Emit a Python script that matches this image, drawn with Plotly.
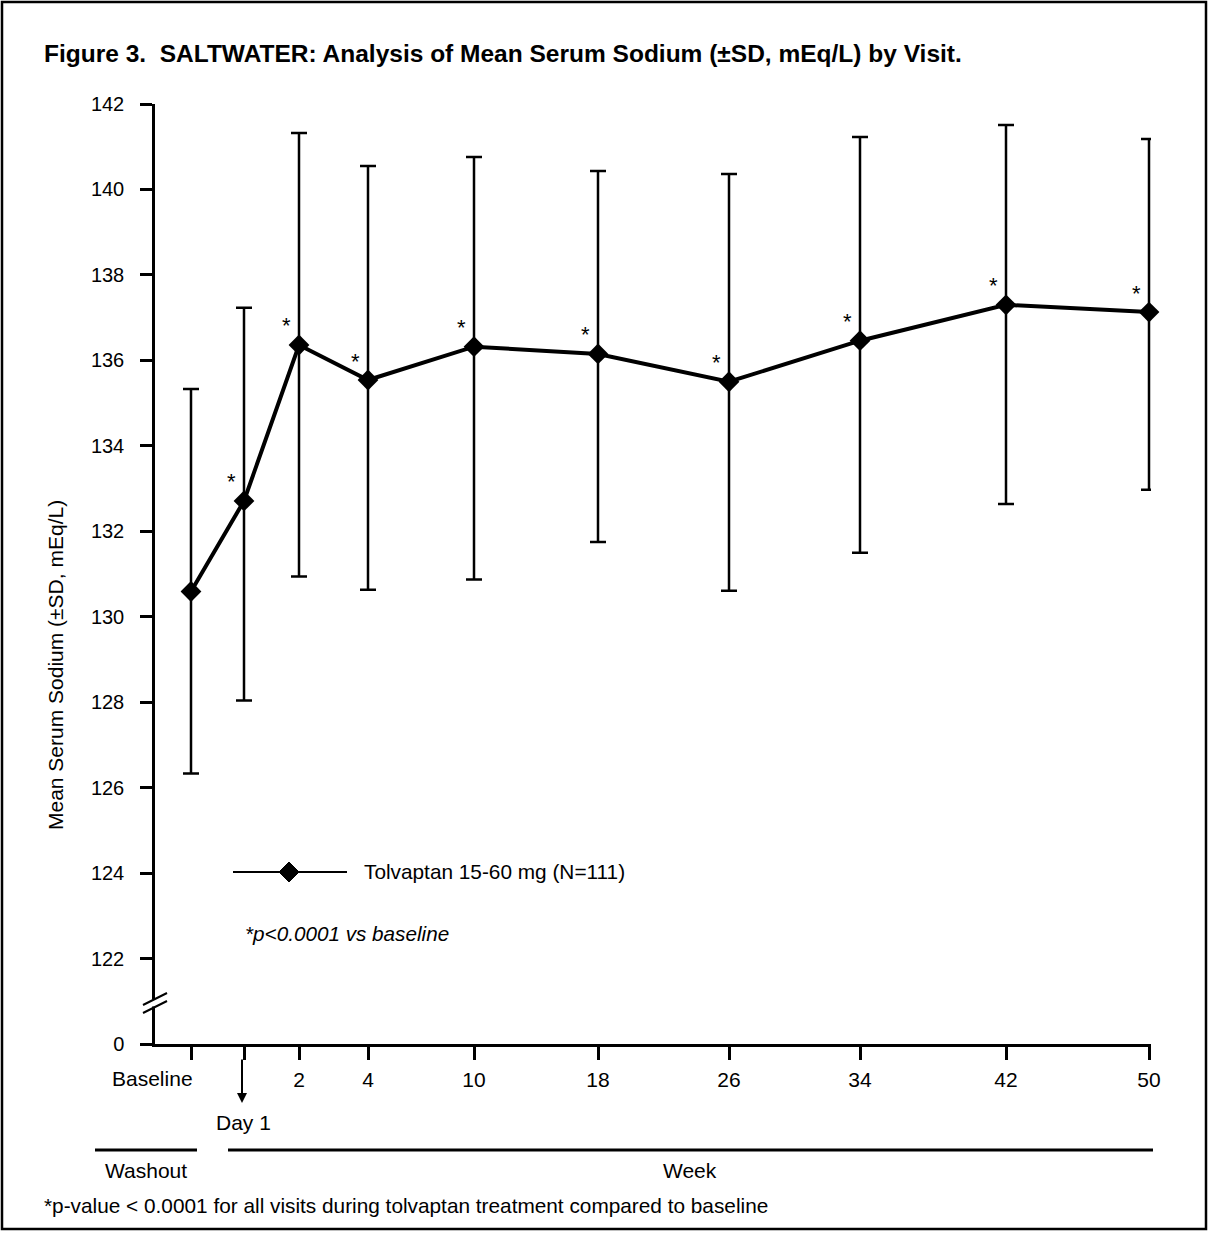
import plotly.graph_objects as go

# ---------------- data ----------------
visit_labels = ["Baseline", "Day 1", "2", "4", "10", "18", "26", "34", "42", "50"]
mean_sodium = [130.59, 132.71, 136.36, 135.54, 136.32, 136.15, 135.50, 136.46, 137.30, 137.13]
upper_sd = [135.33, 137.23, 141.32, 140.55, 140.76, 140.43, 140.36, 141.23, 141.51, 141.18]
lower_sd = [126.33, 128.04, 130.94, 130.63, 130.87, 131.75, 130.61, 131.50, 132.64, 132.97]
significant = [False, True, True, True, True, True, True, True, True, True]
y_tick_labels = ["0", "122", "124", "126", "128", "130", "132", "134", "136", "138", "140", "142"]
series_name = "Tolvaptan 15-60 mg (N=111)"

# ---------------- layout helpers ----------------
W, H = 1209, 1233
L, R, T, B = 155, 1151, 104, 1044          # plot area in pixels
visit_axis_pos = [36, 89, 144, 213, 319, 443, 574, 705, 851, 994]   # horizontal spacing of visits
x_range = [0, R - L]
y_tick_vals = [120 + 2 * i for i in range(len(y_tick_labels))]      # "0" drawn at the break position

FONT = "Liberation Sans, Arial, Helvetica, sans-serif"


def px(x):
    return (x - L) / (R - L)


def py(y):
    return (B - y) / (B - T)


err_plus = [u - m for u, m in zip(upper_sd, mean_sodium)]
err_minus = [m - l for m, l in zip(mean_sodium, lower_sd)]

fig = go.Figure()
fig.add_trace(go.Scatter(
    x=visit_axis_pos, y=mean_sodium, mode="lines+markers", name=series_name,
    line=dict(color="black", width=4),
    marker=dict(symbol="diamond", size=16, color="black"),
    error_y=dict(type="data", symmetric=False, array=err_plus, arrayminus=err_minus,
                 color="black", thickness=2.5, width=8),
    showlegend=False, cliponaxis=False,
))

annotations = []
# significance asterisks
for xp, m, s in zip(visit_axis_pos, mean_sodium, significant):
    if s:
        annotations.append(dict(x=xp, y=m, xref="x", yref="y", text="*", showarrow=False,
                                xshift=-13, yshift=19, font=dict(size=22, color="black", family=FONT)))


def txt(x, y, text, size=21, xanchor="center", **kw):
    annotations.append(dict(x=px(x), y=py(y), xref="paper", yref="paper", text=text,
                            showarrow=False, xanchor=xanchor, yanchor="middle",
                            font=dict(size=size, color="black", family=FONT), **kw))


txt(42, 53, "<b>Figure 3.\u00a0\u00a0SALTWATER: Analysis of Mean Serum Sodium (±SD, mEq/L) by Visit.</b>",
    size=24.5, xanchor="left")
txt(55, 665, "Mean Serum Sodium (±SD, mEq/L)", size=21, textangle=-90)
txt(362, 871, series_name, size=20.8, xanchor="left")
txt(243, 933, "<i>*p&lt;0.0001 vs baseline</i>", size=20.7, xanchor="left")
txt(152, 1078, visit_labels[0], size=21)
txt(243, 1122, visit_labels[1], size=21)
txt(146, 1170, "Washout", size=21)
txt(690, 1170, "Week", size=21)
txt(42, 1205, "*p-value &lt; 0.0001 for all visits during tolvaptan treatment compared to baseline",
    size=20.8, xanchor="left")
# Day 1 arrow
annotations.append(dict(x=px(242), y=py(1103), xref="paper", yref="paper", text="",
                        showarrow=True, axref="pixel", ayref="pixel", ax=0, ay=-45,
                        arrowhead=2, arrowsize=1, arrowwidth=2, arrowcolor="black"))

shapes = []


def pline(x0, y0, x1, y1, w=2.5):
    shapes.append(dict(type="line", xref="paper", yref="paper", x0=px(x0), y0=py(y0),
                       x1=px(x1), y1=py(y1), line=dict(color="black", width=w)))


# outer frame
shapes.append(dict(type="rect", xref="paper", yref="paper", x0=px(2), y0=py(2), x1=px(1206), y1=py(1229),
                   line=dict(color="black", width=2.5)))
# axis break
shapes.append(dict(type="rect", xref="paper", yref="paper", x0=px(150), y0=py(999.5), x1=px(160), y1=py(1006.5),
                   fillcolor="white", line=dict(width=0), layer="above"))
pline(143, 1005, 167, 993, 2)
pline(143, 1013, 167, 1001, 2)
# legend sample
pline(233, 872, 347, 872, 2)
c, h = (289, 872), 10
shapes.append(dict(type="path", xref="paper", yref="paper",
                   path=f"M {px(c[0]-h)},{py(c[1])} L {px(c[0])},{py(c[1]-h)} L {px(c[0]+h)},{py(c[1])} "
                        f"L {px(c[0])},{py(c[1]+h)} Z",
                   fillcolor="black", line=dict(color="black", width=1)))
# washout / week bars
pline(95, 1150, 197, 1150, 3)
pline(228, 1150, 1153, 1150, 3)

fig.update_layout(
    width=W, height=H, margin=dict(l=L, r=W - R, t=T, b=H - B, pad=0),
    paper_bgcolor="white", plot_bgcolor="white",
    font=dict(family=FONT, color="black", size=20),
    annotations=annotations, shapes=shapes,
    xaxis=dict(range=x_range, showgrid=False, zeroline=False, showline=True, linecolor="black",
               linewidth=2.5, ticks="outside", ticklen=13, tickwidth=2.5, tickcolor="black",
               tickvals=visit_axis_pos, ticktext=["", ""] + visit_labels[2:],
               tickfont=dict(size=21), ticklabelstandoff=2),
    yaxis=dict(range=[y_tick_vals[0], y_tick_vals[-1]], showgrid=False, zeroline=False, showline=True,
               linecolor="black", linewidth=2.5, ticks="outside", ticklen=12, tickwidth=2.5,
               tickcolor="black", tickvals=y_tick_vals, ticktext=y_tick_labels,
               tickfont=dict(size=20), ticklabelstandoff=12),
)

fig.write_html("out.html", config={"displayModeBar": False},
               post_script="document.body.style.margin='0';")
